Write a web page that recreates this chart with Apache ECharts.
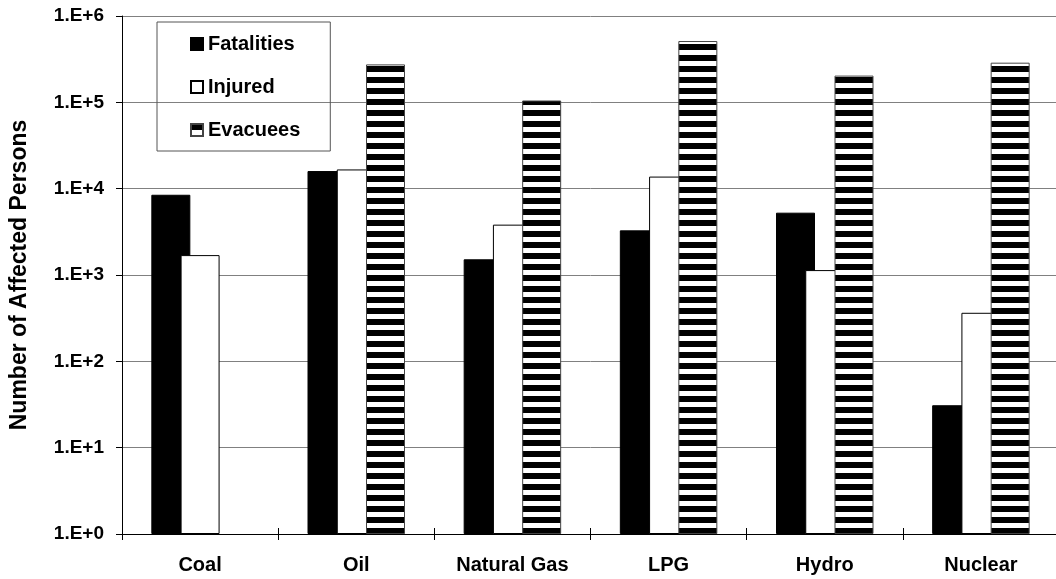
<!DOCTYPE html>
<html>
<head>
<meta charset="utf-8">
<script src="https://cdn.jsdelivr.net/npm/echarts@6/dist/echarts.min.js"></script>
<style>
html,body{margin:0;padding:0;background:#fff;overflow:hidden;}
#chart{width:1062px;height:579px;}
</style>
</head>
<body>
<div id="chart"></div>
<script>
var categories = ['Coal', 'Oil', 'Natural Gas', 'LPG', 'Hydro', 'Nuclear'];
var fatalities = [8500, 16000, 1520, 3290, 5270, 31];
var injured = [1700, 16700, 3830, 13800, 1140, 365];
var evacuees = [null, 275000, 105000, 513000, 204000, 288000];
var yTickLabels = ['1.E+0', '1.E+1', '1.E+2', '1.E+3', '1.E+4', '1.E+5', '1.E+6'];
var seriesNames = ['Fatalities', 'Injured', 'Evacuees'];
var yTitle = 'Number of Affected Persons';

var FONT = 'Arial, "Liberation Sans", sans-serif';

// horizontal stripe pattern
var pc = document.createElement('canvas');
pc.width = 4; pc.height = 11;
var pctx = pc.getContext('2d');
pctx.fillStyle = '#ffffff'; pctx.fillRect(0, 0, 4, 11);
pctx.fillStyle = '#000000'; pctx.fillRect(0, 0, 4, 6);

var chart = echarts.init(document.getElementById('chart'), null, {renderer: 'canvas'});
var option = {
  animation: false,
  backgroundColor: '#ffffff',
  grid: {left: 121, top: 16, width: 938, height: 518, containLabel: false},
  legend: {
    orient: 'vertical',
    left: 157, top: 22,
    padding: [12, 30, 11, 33],
    itemGap: 23,
    itemWidth: 12, itemHeight: 12,
    borderColor: '#555555', borderWidth: 1,
    icon: 'rect',
    textStyle: {fontFamily: FONT, fontWeight: 'bold', fontSize: 20, color: '#000', lineHeight: 20},
    data: seriesNames
  },
  xAxis: [{
    type: 'category',
    data: categories,
    axisLine: {lineStyle: {color: '#000', width: 1}},
    axisTick: {show: true, length: 6, lineStyle: {color: '#000'}},
    axisLabel: {fontFamily: FONT, fontWeight: 'bold', fontSize: 20, color: '#000', margin: 21},
    splitLine: {show: false}
  }, {
    type: 'category',
    position: 'bottom',
    data: categories,
    axisLine: {show: false},
    axisTick: {show: true, inside: true, length: 6, lineStyle: {color: '#000'}},
    axisLabel: {show: false},
    splitLine: {show: false}
  }],
  yAxis: {
    type: 'log',
    logBase: 10,
    min: 1, max: 1000000,
    name: yTitle,
    nameLocation: 'middle',
    nameRotate: 90,
    nameGap: 91,
    nameTextStyle: {fontFamily: FONT, fontWeight: 'bold', fontSize: 23, color: '#000'},
    axisLine: {show: true, lineStyle: {color: '#000', width: 1}},
    axisTick: {show: true, length: 6, lineStyle: {color: '#000'}},
    axisLabel: {
      fontFamily: FONT, fontWeight: 'bold', fontSize: 19, color: '#000', margin: 18,
      formatter: function (v) {
        var i = Math.round(Math.log(v) / Math.LN10);
        return yTickLabels[i];
      }
    },
    splitLine: {show: true, lineStyle: {color: '#808080', width: 1}}
  },
  series: [{
    name: seriesNames[0], type: 'bar', data: fatalities,
    barWidth: 39, barGap: '-25%',
    itemStyle: {color: '#000000', borderColor: '#000000', borderWidth: 1}
  }, {
    name: seriesNames[1], type: 'bar', data: injured,
    barWidth: 39, barGap: '-25%',
    itemStyle: {color: '#ffffff', borderColor: '#000000', borderWidth: 1}
  }, {
    name: seriesNames[2], type: 'bar', data: evacuees,
    barWidth: 39, barGap: '-25%',
    itemStyle: {color: {image: pc, repeat: 'repeat'}, borderColor: '#444444', borderWidth: 1}
  }]
};
chart.setOption(option);
</script>
</body>
</html>
